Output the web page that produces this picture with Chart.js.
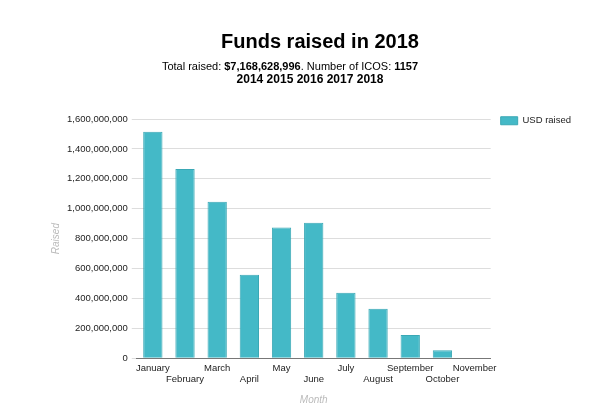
<!DOCTYPE html>
<html>
<head>
<meta charset="utf-8">
<script src="https://cdn.jsdelivr.net/npm/chart.js@4.4.0/dist/chart.umd.min.js"></script>
<style>
  html, body { margin: 0; padding: 0; background: #fff; }
  #wrap { width: 600px; height: 410px; }
</style>
</head>
<body>
<div id="wrap"><canvas id="chart" width="600" height="410"></canvas></div>
<script>
// donnees
const months = ["January", "February", "March", "April", "May", "June",
  "July", "August", "September", "October", "November"];
const usdRaised = [1515000000, 1265000000, 1046000000, 558000000, 875000000, 906000000,
  437000000, 330000000, 156000000, 54000000, 0];
const yTicks = [0, 200000000, 400000000, 600000000, 800000000, 1000000000,
  1200000000, 1400000000, 1600000000];

const FONT = "'Liberation Sans', Arial, sans-serif";

// titre + sous-titre avec des morceaux en gras
const titlePlugin = {
  id: "titleBlock",
  afterDraw(chart) {
    const ctx = chart.ctx;
    ctx.save();
    ctx.fillStyle = "#000";
    ctx.textBaseline = "alphabetic";
    ctx.textAlign = "center";
    ctx.font = "bold 20px " + FONT;
    ctx.fillText("Funds raised in 2018", 320, 48);

    const parts = [
      ["Total raised: ", false],
      ["$7,168,628,996", true],
      [". Number of ICOS: ", false],
      ["1157", true]
    ];
    ctx.textAlign = "left";
    let total = 0;
    parts.forEach(p => {
      ctx.font = (p[1] ? "bold " : "") + "11px " + FONT;
      total += ctx.measureText(p[0]).width;
    });
    let x = 290 - total / 2;
    parts.forEach(p => {
      ctx.font = (p[1] ? "bold " : "") + "11px " + FONT;
      ctx.fillText(p[0], x, 70);
      x += ctx.measureText(p[0]).width;
    });

    ctx.textAlign = "center";
    ctx.font = "bold 12px " + FONT;
    ctx.fillText("2014 2015 2016 2017 2018", 310, 83);
    ctx.restore();
  }
};

new Chart(document.getElementById("chart"), {
  type: "bar",
  data: {
    labels: months,
    datasets: [{
      label: "USD raised",
      data: usdRaised,
      backgroundColor: "#44b9c7",
      borderColor: "#3aa8b5",
      borderWidth: 1,
      barPercentage: 0.6,
      categoryPercentage: 1
    }]
  },
  options: {
    responsive: false,
    animation: false,
    layout: { padding: { top: 106, left: 37, right: 19, bottom: 4 } },
    plugins: {
      // titre vide : sert juste d'espace au-dessus de la zone du graphique
      title: {
        display: true,
        text: "",
        font: { size: 1, lineHeight: 1 },
        padding: { top: 12, bottom: 0 }
      },
      legend: {
        position: "right",
        align: "start",
        labels: {
          boxWidth: 17,
          boxHeight: 8,
          padding: 10,
          color: "#222",
          font: { family: FONT, size: 9.5 }
        }
      },
      tooltip: { enabled: false }
    },
    scales: {
      x: {
        grid: { display: false, drawTicks: false },
        border: { color: "#777", width: 1 },
        ticks: {
          autoSkip: false,
          maxRotation: 0,
          padding: 4,
          color: "#222",
          font: { family: FONT, size: 9.5 },
          callback: function (v, i) {
            const lbl = this.getLabelForValue(v);
            return i % 2 ? ["", lbl] : lbl;
          }
        },
        title: {
          display: true,
          text: "Month",
          color: "#bbb",
          font: { family: FONT, size: 10, style: "italic" },
          padding: { top: 5, bottom: 0 }
        }
      },
      y: {
        min: 0,
        max: 1600000000,
        afterBuildTicks: axis => { axis.ticks = yTicks.map(v => ({ value: v })); },
        grid: { color: "#ddd", tickLength: 5, tickColor: "#ddd" },
        border: { display: false },
        ticks: {
          padding: 4,
          color: "#222",
          font: { family: FONT, size: 9.5 },
          callback: v => v.toLocaleString("en-US")
        },
        title: {
          display: true,
          text: "Raised",
          color: "#bbb",
          font: { family: FONT, size: 10, style: "italic" },
          padding: { top: 13, bottom: 1 }
        }
      }
    }
  },
  plugins: [titlePlugin]
});
</script>
</body>
</html>
